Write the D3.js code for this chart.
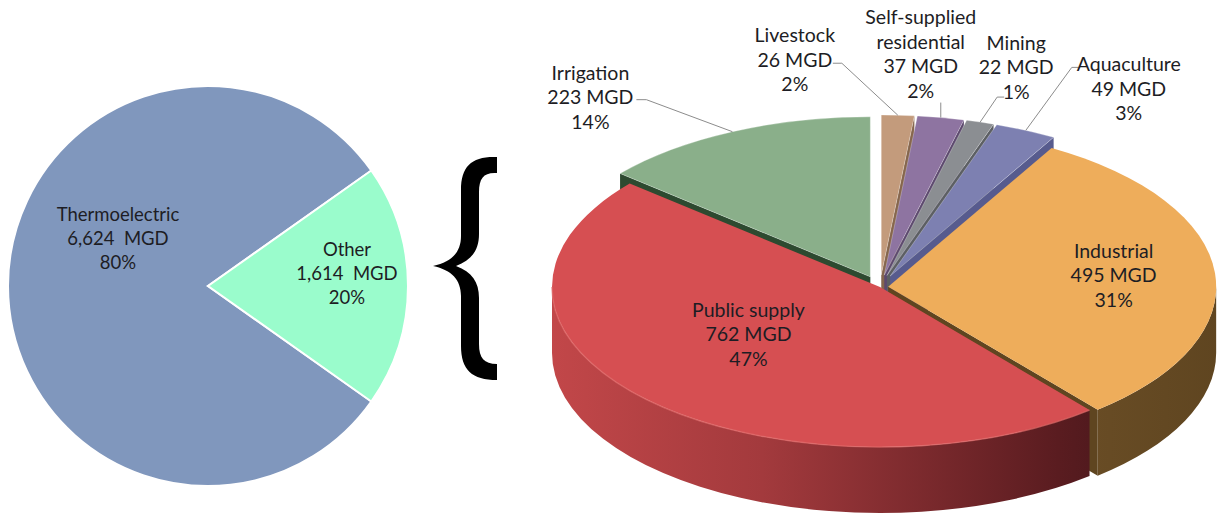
<!DOCTYPE html>
<html>
<head>
<meta charset="utf-8">
<script src="https://cdn.jsdelivr.net/npm/d3@7"></script>
<style>
  html, body { margin: 0; padding: 0; background: #ffffff; }
  svg { display: block; }
  text { font-family: Lato, "Open Sans", sans-serif; fill: #1d1d24; }
</style>
</head>
<body>
<svg id="chart" width="1225" height="518"></svg>
<script>
// ---- Data -------------------------------------------------------------
// Total withdrawals, million gallons per day (MGD)
const totalCategories = ["Thermoelectric", "Other"];
const totalValues = [6624, 1614];

// Breakdown of the "Other" withdrawals, clockwise from 12 o'clock
const useCategories = ["Livestock", "Self-supplied residential", "Mining", "Aquaculture",
                       "Industrial", "Public supply", "Irrigation"];
const useValues = [26, 37, 22, 49, 495, 762, 223];
const useLabelLines = [["Livestock"], ["Self-supplied", "residential"], ["Mining"], ["Aquaculture"],
                       ["Industrial"], ["Public supply"], ["Irrigation"]];

// ---- Styling ----------------------------------------------------------
const totalColors = { "Thermoelectric": "#8097bd", "Other": "#9afccc" };
const topColors = {
  "Livestock": "#c39b7c", "Self-supplied residential": "#8e74a1", "Mining": "#8b8e92",
  "Aquaculture": "#7d80b1", "Industrial": "#eead5b", "Public supply": "#d64f52", "Irrigation": "#8aaf8a"
};
const sideColors = {
  "Livestock": "#86664d", "Self-supplied residential": "#5d4a6e", "Mining": "#5c5f63",
  "Aquaculture": "#575b8e", "Industrial": "url(#gradIndustrial)", "Public supply": "url(#gradPublic)",
  "Irrigation": "#2d4a30"
};
// how far each slice is pulled out of the 3-D pie (fraction of the radius)
const explode = {
  "Livestock": 0.075, "Self-supplied residential": 0.075, "Mining": 0.075, "Aquaculture": 0.075,
  "Industrial": 0.025, "Public supply": 0, "Irrigation": 0.07
};
// inside labels: radial position and a small nudge; outside labels: offsets from the rim anchor
const insideLabel = {
  "Industrial": { r: 0.69, nudge: [0, -2] },
  "Public supply": { r: 0.5, nudge: [-15, -9] }
};
const outsideLabel = {
  "Livestock":   { text: [-103, -80], elbow: [-56, -52], end: [-65, -52] },
  "Self-supplied residential": { text: [-20, -100], elbow: [0, -15], end: [0, -15] },
  "Mining":      { text: [36, -79], elbow: [17, -25], end: [24, -25] },
  "Aquaculture": { text: [103, -66], elbow: [46, -63], end: [53, -63] },
  "Irrigation":  { text: [-142, -59], elbow: [-86, -32], end: [-96, -32] }
};

const fmtNum = d3.format(",");
const fmtPct = d3.format(".0%");

const svg = d3.select("#chart");
const defs = svg.append("defs");

const gPub = defs.append("linearGradient").attr("id", "gradPublic")
  .attr("gradientUnits", "userSpaceOnUse").attr("x1", 552).attr("x2", 1090).attr("y1", 0).attr("y2", 0);
[[0, "#c24749"], [0.39, "#a33a3d"], [0.94, "#5a1c20"], [1, "#521a1e"]]
  .forEach(([o, c]) => gPub.append("stop").attr("offset", o).attr("stop-color", c));
const gInd = defs.append("linearGradient").attr("id", "gradIndustrial")
  .attr("gradientUnits", "userSpaceOnUse").attr("x1", 1000).attr("x2", 1220).attr("y1", 0).attr("y2", 0);
[[0, "#6f5128"], [1, "#5f4520"]]
  .forEach(([o, c]) => gInd.append("stop").attr("offset", o).attr("stop-color", c));

// ---- Left: flat pie of total withdrawals ---------------------------------
const totalData = totalCategories.map((c, i) => ({ name: c, value: totalValues[i] }));
const totalSum = d3.sum(totalValues);
const otherShare = totalValues[1] / totalSum;
const leftStart = Math.PI / 2 + Math.PI * otherShare;   // centres "Other" on 3 o'clock
const leftPie = d3.pie().sort(null).value(d => d.value)
  .startAngle(leftStart).endAngle(leftStart + 2 * Math.PI);
const leftR = 200;
const leftArc = d3.arc().innerRadius(0).outerRadius(leftR);
const leftG = svg.append("g").attr("transform", "translate(208,286)");
const leftArcs = leftPie(totalData);

leftG.selectAll("path").data(leftArcs).join("path")
  .attr("d", leftArc)
  .attr("fill", d => totalColors[d.data.name])
  .attr("stroke", "#ffffff").attr("stroke-width", 2);

const leftLabelPos = {
  "Thermoelectric": { r: 0.45, nudge: [0, -47] },
  "Other": { r: 0.695, nudge: [0, -12] }
};
leftArcs.forEach(d => {
  const cfg = leftLabelPos[d.data.name];
  const mid = (d.startAngle + d.endAngle) / 2;
  const x = cfg.r * leftR * Math.sin(mid) + cfg.nudge[0];
  const y = -cfg.r * leftR * Math.cos(mid) + cfg.nudge[1];
  const lines = [d.data.name, fmtNum(d.data.value) + "  MGD", fmtPct(d.data.value / totalSum)];
  const t = leftG.append("text").attr("text-anchor", "middle")
    .attr("font-size", 18.5).attr("xml:space", "preserve").style("white-space", "pre");
  lines.forEach((s, i) => t.append("tspan").attr("x", x).attr("y", y + (i - 1) * 24).attr("dy", "0.35em").text(s));
});

// ---- Curly brace linking the two pies -----------------------------------
svg.append("path")
  .attr("d", "M497,157 C472,156 461,166 461,190 L461,236 C461,252 452,262 433,266 " +
             "C452,270 461,280 461,296 L461,346 C461,370 472,380 497,380 L497,364 " +
             "C484,364 479,358 479,344 L479,298 C479,282 472,272 456,266 " +
             "C472,260 479,250 479,234 L479,192 C479,178 484,172 497,173 Z")
  .attr("fill", "#000000");

// ---- Right: 3-D pie of the "Other" withdrawals ---------------------------
const P3 = { cx: 880, cy: 287, rx: 328, ry: 160, depth: 66 };
const useData = useCategories.map((c, i) => ({ name: c, value: useValues[i], lines: useLabelLines[i] }));
const useSum = d3.sum(useValues);
const rightPie = d3.pie().sort(null).value(d => d.value).startAngle(0).endAngle(2 * Math.PI);
const slices = rightPie(useData).map(d => {
  const mid = (d.startAngle + d.endAngle) / 2;
  const k = explode[d.data.name];
  d.mid = mid;
  d.off = [k * P3.rx * Math.sin(mid), -k * P3.ry * Math.cos(mid)];
  return d;
});

// point on the pie at angle a (clockwise from top), radius fraction r, offset o, dropped by dz
const pt = (a, r, o, dz = 0) => [
  +(P3.cx + o[0] + r * P3.rx * Math.sin(a)).toFixed(2),
  +(P3.cy + o[1] - r * P3.ry * Math.cos(a) + dz).toFixed(2)
];
const ell = `${P3.rx},${P3.ry} 0`;

function topPath(d) {
  const o = d.off;
  const large = d.endAngle - d.startAngle > Math.PI ? 1 : 0;
  return `M${pt(0, 0, o)}L${pt(d.startAngle, 1, o)}A${ell} ${large} 1 ${pt(d.endAngle, 1, o)}Z`;
}
function wallPath(d) {
  const a = Math.max(d.startAngle, Math.PI / 2), b = Math.min(d.endAngle, 3 * Math.PI / 2);
  if (a >= b) return null;
  const o = d.off, h = P3.depth;
  const large = b - a > Math.PI ? 1 : 0;
  return `M${pt(a, 1, o)}A${ell} ${large} 1 ${pt(b, 1, o)}L${pt(b, 1, o, h)}A${ell} ${large} 0 ${pt(a, 1, o, h)}Z`;
}
function radialPath(d, a) {
  const o = d.off, h = P3.depth;
  return `M${pt(0, 0, o)}L${pt(a, 1, o)}L${pt(a, 1, o, h)}L${pt(0, 0, o, h)}Z`;
}

const g3 = svg.append("g");
// cut faces that turn towards the viewer
const radialFaces = [];
slices.forEach(d => {
  if (Math.sin(d.startAngle) < -1e-6) radialFaces.push({ d, a: d.startAngle });
  if (Math.sin(d.endAngle) > 1e-6) radialFaces.push({ d, a: d.endAngle });
});
g3.append("g").selectAll("path").data(radialFaces).join("path")
  .attr("d", f => radialPath(f.d, f.a))
  .attr("fill", f => f.d.data.name === "Industrial" ? "#5f4520" :
                     f.d.data.name === "Public supply" ? "#6a2226" : sideColors[f.d.data.name]);

// outer rims on the front half
g3.append("g").selectAll("path").data(slices.filter(d => wallPath(d))).join("path")
  .attr("d", wallPath)
  .attr("fill", d => sideColors[d.data.name]);

// top faces
g3.append("g").selectAll("path").data(slices).join("path")
  .attr("d", topPath)
  .attr("fill", d => topColors[d.data.name])
  .attr("stroke", d => explode[d.data.name] > 0.05 ? "rgba(255,255,255,0.35)" : "none")
  .attr("stroke-width", 0.8)
  .attr("stroke-linejoin", "round");

// soft highlight along the front edge of the public supply top
const pub = slices.find(d => d.data.name === "Public supply");
g3.append("path")
  .attr("d", `M${pt(Math.max(pub.startAngle, Math.PI / 2), 1, pub.off)}A${ell} 0 1 ${pt(3 * Math.PI / 2, 1, pub.off)}`)
  .attr("fill", "none").attr("stroke", "#e06a6a").attr("stroke-width", 1.5).attr("opacity", 0.7);

// ---- Labels ----------------------------------------------------------------
const lineH = 24.5;
const labelG = svg.append("g").attr("font-size", 19.5);

function writeLabel(x, yFirst, lines) {
  const t = labelG.append("text").attr("text-anchor", "middle");
  lines.forEach((s, i) => t.append("tspan").attr("x", x).attr("y", yFirst + i * lineH).attr("dy", "0.35em").text(s));
}

slices.forEach(d => {
  const name = d.data.name;
  const lines = [...d.data.lines, `${fmtNum(d.data.value)} MGD`, fmtPct(d.data.value / useSum)];
  if (insideLabel[name]) {
    const cfg = insideLabel[name];
    const p = pt(d.mid, cfg.r, d.off);
    const x = p[0] + cfg.nudge[0], yMid = p[1] + cfg.nudge[1];
    writeLabel(x, yMid - lineH * (lines.length - 1) / 2, lines);
  } else {
    const cfg = outsideLabel[name];
    const a = pt(d.mid, 1, d.off);
    labelG.append("polyline")
      .attr("points", [[a[0] + cfg.end[0], a[1] + cfg.end[1]], [a[0] + cfg.elbow[0], a[1] + cfg.elbow[1]], a].join(" "))
      .attr("fill", "none").attr("stroke", "#8c8c8c").attr("stroke-width", 1);
    writeLabel(a[0] + cfg.text[0], a[1] + cfg.text[1], lines);
  }
});
</script>
</body>
</html>
